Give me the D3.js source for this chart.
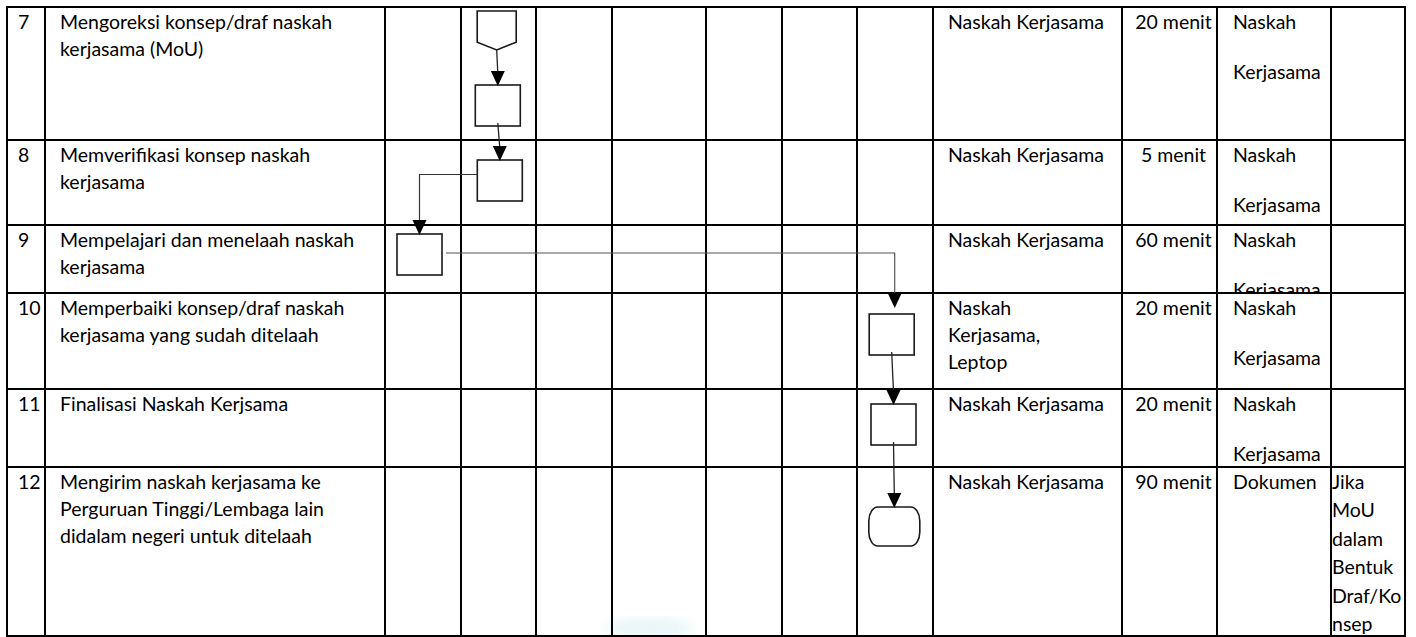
<!DOCTYPE html>
<html>
<head>
<meta charset="utf-8">
<script src="https://cdn.jsdelivr.net/npm/d3@7"></script>
<style>
  html, body { margin: 0; padding: 0; background: #fff; }
  svg { display: block; }
</style>
</head>
<body>
<svg id="chart" width="1416" height="637"></svg>
<script>
// ---------------- DATA ----------------
const steps = [7, 8, 9, 10, 11, 12];
const descriptions = [
  ["Mengoreksi konsep/draf naskah", "kerjasama (MoU)"],
  ["Memverifikasi konsep naskah", "kerjasama"],
  ["Mempelajari dan menelaah naskah", "kerjasama"],
  ["Memperbaiki konsep/draf naskah", "kerjasama yang sudah ditelaah"],
  ["Finalisasi Naskah Kerjsama"],
  ["Mengirim naskah kerjasama ke", "Perguruan Tinggi/Lembaga lain", "didalam negeri untuk ditelaah"]
];
const kelengkapan = [
  ["Naskah Kerjasama"],
  ["Naskah Kerjasama"],
  ["Naskah Kerjasama"],
  ["Naskah", "Kerjasama,", "Leptop"],
  ["Naskah Kerjasama"],
  ["Naskah Kerjasama"]
];
const waktu = ["20 menit", "5 menit", "60 menit", "20 menit", "20 menit", "90 menit"];
const outputs = [
  ["Naskah", "Kerjasama"],
  ["Naskah", "Kerjasama"],
  ["Naskah", "Kerjasama"],
  ["Naskah", "Kerjasama"],
  ["Naskah", "Kerjasama"],
  ["Dokumen"]
];
const keterangan = [[], [], [], [], [], ["Jika", "MoU", "dalam", "Bentuk", "Draf/Ko", "nsep"]];

// flowchart symbols: which step (row) and which lane (actor column)
const nodeSteps = [7, 7, 8, 9, 10, 11, 12];
const nodeLanes = [1, 1, 1, 0, 6, 6, 6];
const nodeTypes = ["connector", "process", "process", "process", "process", "process", "terminator"];
const edgeFrom = [0, 1, 2, 3, 4, 5];
const edgeTo   = [1, 2, 3, 4, 5, 6];
const edgeKind = ["straight", "straight", "elbowLeft", "elbowRight", "straight", "straight"];

// ---------------- LAYOUT ----------------
const W = 1416, H = 637;
const colEdges = [7, 45, 385, 461, 536, 612, 706, 782, 857, 933, 1122, 1217, 1331, 1405];
const rowEdges = [7, 140, 225, 293, 389, 467, 636];
const nodeDy = [4, 78, 20, 9, 21, 15, 40];
const nodeDx = [-1.8, -0.7, 1.3, -3.5, -3.3, -1.5, -0.7];
const FONT = "Lato, 'Open Sans', sans-serif";
const FS = 19.5;

const svg = d3.select("#chart");
svg.append("rect").attr("width", W).attr("height", H).attr("fill", "#fff");

const rowTop = d3.scaleOrdinal().domain(steps).range(rowEdges.slice(0, -1));
const rowBottom = d3.scaleOrdinal().domain(steps).range(rowEdges.slice(1));
const laneEdges = colEdges.slice(2, 10);
const laneCenter = d3.scaleOrdinal()
  .domain(d3.range(7))
  .range(d3.range(7).map(i => (laneEdges[i] + laneEdges[i + 1]) / 2));

// ---------------- CLIP PATHS / FILTERS ----------------
const defs = svg.append("defs");
steps.forEach((s, i) => {
  defs.append("clipPath").attr("id", "rowclip" + i)
    .append("rect")
    .attr("x", 0).attr("y", rowTop(s) + 1)
    .attr("width", W).attr("height", rowBottom(s) - rowTop(s) - 2);
});
defs.append("filter").attr("id", "blur").append("feGaussianBlur").attr("stdDeviation", 6);

// faint watermark remnant at the bottom of the page
svg.append("ellipse")
  .attr("cx", (colEdges[5] + colEdges[6]) / 2 - 10).attr("cy", rowEdges[6] - 8)
  .attr("rx", 44).attr("ry", 10)
  .attr("fill", "#dff1f4").attr("opacity", 0.7).attr("filter", "url(#blur)");

// ---------------- TEXT ----------------
const textG = svg.append("g")
  .attr("font-family", FONT).attr("font-size", FS).attr("fill", "#000");

function lines(g, arr, x, y0, dy, anchor) {
  g.selectAll(null).data(arr).enter().append("text")
    .attr("x", x).attr("y", (d, j) => y0 + j * dy)
    .attr("text-anchor", anchor || "start")
    .text(d => d);
}

steps.forEach((s, i) => {
  const g = textG.append("g").attr("clip-path", `url(#rowclip${i})`);
  const base = rowTop(s) + 22;
  lines(g, [String(s)], colEdges[0] + 11, base, 0);
  lines(g, descriptions[i], colEdges[1] + 15, base, 27);
  lines(g, kelengkapan[i], colEdges[9] + 15, base, 27);
  lines(g, [waktu[i]], (colEdges[10] + colEdges[11]) / 2 + 4, base, 0, "middle");
  lines(g, outputs[i], colEdges[11] + 16, base, 50);
  lines(g, keterangan[i], colEdges[12] + 1, base, 28.4);
});

// ---------------- GRID ----------------
const grid = svg.append("g").attr("stroke", "#000").attr("stroke-width", 2);
grid.selectAll("line.v").data(colEdges).enter().append("line")
  .attr("x1", d => d).attr("x2", d => d)
  .attr("y1", rowEdges[0] - 1).attr("y2", rowEdges[rowEdges.length - 1] + 1);
grid.selectAll("line.h").data(rowEdges).enter().append("line")
  .attr("y1", d => d).attr("y2", d => d)
  .attr("x1", colEdges[0] - 1).attr("x2", colEdges[colEdges.length - 1] + 1);

// ---------------- FLOWCHART ----------------
const size = { process: [45, 41], connector: [39, 39], terminator: [51, 39] };
const nodes = nodeSteps.map((s, i) => {
  const [w, h] = size[nodeTypes[i]];
  const cx = laneCenter(nodeLanes[i]) + nodeDx[i];
  const y = rowTop(s) + nodeDy[i];
  return { type: nodeTypes[i], cx, x: cx - w / 2, y, w, h };
});

const shapes = svg.append("g").attr("fill", "#fff").attr("stroke", "#1a1a1a").attr("stroke-width", 1.6);
nodes.forEach(n => {
  if (n.type === "process") {
    shapes.append("rect").attr("x", n.x).attr("y", n.y).attr("width", n.w).attr("height", n.h);
  } else if (n.type === "terminator") {
    shapes.append("rect").attr("x", n.x).attr("y", n.y).attr("width", n.w).attr("height", n.h)
      .attr("rx", 9).attr("ry", 14);
  } else {
    const s = n.h * 0.8;
    shapes.append("path").attr("d", d3.line()([
      [n.x, n.y], [n.x + n.w, n.y], [n.x + n.w, n.y + s], [n.cx, n.y + n.h], [n.x, n.y + s]
    ]) + "Z");
  }
});

const edgesG = svg.append("g").attr("fill", "none");
const arrowG = svg.append("g").attr("fill", "#000");
function arrowHead(x, y) {
  arrowG.append("path").attr("d", d3.line()([[x - 7, y - 15], [x + 7, y - 15], [x, y]]) + "Z");
}
edgeFrom.forEach((f, i) => {
  const a = nodes[f], b = nodes[edgeTo[i]];
  const kind = edgeKind[i];
  let pts, tip;
  if (kind === "straight") {
    const y0 = a.y + a.h - (a.type === "process" ? 3 : 0);
    tip = [b.cx, b.y + 1];
    pts = [[a.cx, y0], [b.cx, b.y - 12]];
    edgesG.append("path").attr("d", d3.line()(pts)).attr("stroke", "#222").attr("stroke-width", 1.3);
  } else if (kind === "elbowLeft") {
    const yy = a.y + 14.5;
    tip = [b.cx, b.y + 1];
    pts = [[a.x, yy], [b.cx, yy], [b.cx, b.y - 12]];
    edgesG.append("path").attr("d", d3.line()(pts)).attr("stroke", "#333").attr("stroke-width", 1.2);
  } else {
    const yy = a.y + 19;
    tip = [b.cx + 3, b.y - 6];
    pts = [[a.x + a.w + 4, yy], [b.cx + 3, yy], [b.cx + 3, b.y - 18]];
    edgesG.append("path").attr("d", d3.line()(pts)).attr("stroke", "#555").attr("stroke-width", 1.2);
  }
  arrowHead(tip[0], tip[1]);
});
</script>
</body>
</html>
